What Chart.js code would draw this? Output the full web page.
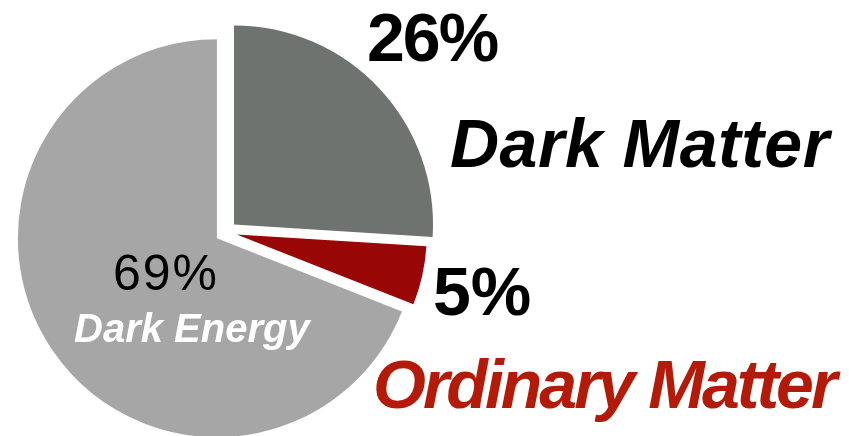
<!DOCTYPE html>
<html>
<head>
<meta charset="utf-8">
<script src="https://cdn.jsdelivr.net/npm/chart.js@4"></script>
<style>
  html, body { margin: 0; padding: 0; background: #fff; }
  #wrap { width: 849px; height: 436px; }
</style>
</head>
<body>
<div id="wrap"><canvas id="pieChart" width="849" height="436"></canvas></div>
<script>
var components = ["Dark Matter", "Ordinary Matter", "Dark Energy"];
var shares = [26, 5, 69];
var sliceColors = ["#6e7370", "#980605", "#a6a6a6"];

// how far each slice is pulled out from the centre, px, and its size relative to the pie radius
var explodeGap = 11;
var sliceScale = [1, 0.955, 1];

// label layout per slice, offsets from the pie centre (left edge / baseline)
var labelLayout = [
  {
    pct:  { dx: 141, dy: -171, font: "bold 68px 'Liberation Sans'", color: "#000", spacing: -2 },
    name: { dx: 224, dy: -65, font: "italic bold 68px 'Liberation Sans'", color: "#000", spacing: 0.5 }
  },
  {
    pct:  { dx: 207, dy: 83, font: "bold 68px 'Liberation Sans'", color: "#000", spacing: 0 },
    name: { dx: 147, dy: 176, font: "italic bold 68px 'Liberation Sans'", color: "#b31a08", spacing: -3 }
  },
  {
    pct:  { dx: -113, dy: 58, font: "50px 'Liberation Sans'", color: "#000", spacing: 2 },
    name: { dx: -152, dy: 110, font: "italic bold 40px 'Liberation Sans'", color: "#fff", spacing: 0 }
  }
];

function drawText(ctx, text, x, y, st) {
  ctx.font = st.font;
  ctx.fillStyle = st.color;
  ctx.letterSpacing = st.spacing + "px";
  ctx.fillText(text, x, y);
}

// draw every slice shifted outward along its mid angle
var explodedSlices = {
  id: 'explodedSlices',
  beforeDatasetDraw: function (chart, args) {
    var ctx = chart.ctx;
    args.meta.data.forEach(function (arc, i) {
      var mid = (arc.startAngle + arc.endAngle) / 2;
      var s = sliceScale[i];
      ctx.save();
      ctx.translate(arc.x + Math.cos(mid) * explodeGap, arc.y + Math.sin(mid) * explodeGap);
      ctx.scale(s, s);
      ctx.translate(-arc.x, -arc.y);
      arc.draw(ctx);
      ctx.restore();
    });
    return false;
  }
};

var sliceLabels = {
  id: 'sliceLabels',
  afterDraw: function (chart) {
    var ctx = chart.ctx;
    var arcs = chart.getDatasetMeta(0).data;
    var cx = arcs[0].x, cy = arcs[0].y;
    ctx.save();
    ctx.textAlign = 'left';
    ctx.textBaseline = 'alphabetic';
    for (var i = 0; i < components.length; i++) {
      var l = labelLayout[i];
      drawText(ctx, shares[i] + '%', cx + l.pct.dx, cy + l.pct.dy, l.pct);
      drawText(ctx, components[i], cx + l.name.dx, cy + l.name.dy, l.name);
    }
    ctx.restore();
  }
};

var pie = new Chart(document.getElementById('pieChart'), {
  type: 'pie',
  data: {
    labels: components,
    datasets: [{
      data: shares,
      backgroundColor: sliceColors,
      borderWidth: 0,
      offset: 0,
      hoverOffset: 0,
      radius: 199
    }]
  },
  options: {
    responsive: false,
    animation: false,
    layout: { padding: { left: 0, right: 397, top: 28, bottom: 0 } },
    plugins: {
      legend: { display: false },
      tooltip: { enabled: false }
    }
  },
  plugins: [explodedSlices, sliceLabels]
});
</script>
</body>
</html>
